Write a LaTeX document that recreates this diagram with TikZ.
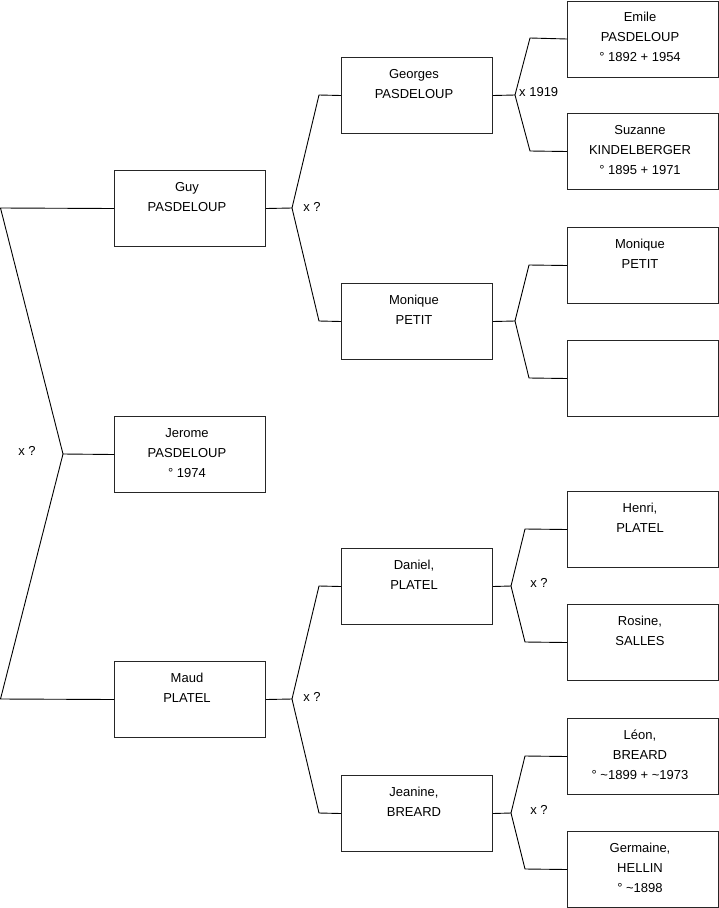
\documentclass[tikz,border=0pt]{standalone}
\usepackage{fontspec}
\setmainfont{Liberation Sans}
\begin{document}
\begin{tikzpicture}[x=1pt,y=-1pt,
  pbox/.style={draw=black!85,line width=1pt,minimum width=151pt,minimum height=76pt,inner sep=0pt,anchor=north west},
  ptxt/.style={anchor=north,inner sep=0pt,align=center,font=\fontsize{13}{20}\selectfont,yshift=-7pt,xshift=-3pt},
  conn/.style={draw=black,line width=0.9pt},
  lbl/.style={inner sep=0pt,font=\fontsize{13}{16}\selectfont}]
\useasboundingbox[fill=white] (0,0) rectangle (719,908);
% level 1
\node[pbox] (guy) at (114,170) {};
\node[pbox] (jer) at (114,416) {};
\node[pbox] (maud) at (114,661) {};
% level 2
\node[pbox] (geo) at (341,57) {};
\node[pbox] (mon) at (341,283) {};
\node[pbox] (dan) at (341,548) {};
\node[pbox] (jea) at (341,775) {};
% level 3
\node[pbox] (emi) at (567,0.5) {};
\node[pbox] (suz) at (567,113) {};
\node[pbox] (mon2) at (567,227) {};
\node[pbox] (emp) at (567,340) {};
\node[pbox] (hen) at (567,491) {};
\node[pbox] (ros) at (567,604) {};
\node[pbox] (leo) at (567,718) {};
\node[pbox] (ger) at (567,831) {};
% texts
\node[ptxt] (tguy) at (guy.north) {\strut Guy\\PASDELOUP};
\node[ptxt] (tjer) at (jer.north) {\strut Jerome\\PASDELOUP\\° 1974};
\node[ptxt] (tmaud) at (maud.north) {\strut Maud\\PLATEL};
\node[ptxt] (tgeo) at (geo.north) {\strut Georges\\PASDELOUP};
\node[ptxt] (tmon) at (mon.north) {\strut Monique\\PETIT};
\node[ptxt] (tdan) at (dan.north) {\strut Daniel,\\PLATEL};
\node[ptxt] (tjea) at (jea.north) {\strut Jeanine,\\BREARD};
\node[ptxt] (temi) at (emi.north) {\strut Emile\\PASDELOUP\\° 1892 + 1954};
\node[ptxt] (tsuz) at (suz.north) {\strut Suzanne\\KINDELBERGER\\° 1895 + 1971};
\node[ptxt] (tmon2) at (mon2.north) {\strut Monique\\PETIT};
\node[ptxt] (then) at (hen.north) {\strut Henri,\\PLATEL};
\node[ptxt] (tros) at (ros.north) {\strut Rosine,\\SALLES};
\node[ptxt] (tleo) at (leo.north) {\strut Léon,\\BREARD\\° \textasciitilde 1899 + \textasciitilde 1973};
\node[ptxt] (tger) at (ger.north) {\strut Germaine,\\HELLIN\\° \textasciitilde 1898};
% junction coordinates
\coordinate (r1) at (0.5,208);
\coordinate (r0) at (63,454);
\coordinate (r2) at (0.5,699);
\coordinate (g0) at (292,208);
\coordinate (g1) at (319,95);
\coordinate (g2) at (319,321);
\coordinate (m0) at (292,699);
\coordinate (m1) at (319,586);
\coordinate (m2) at (319,813);
\coordinate (e0) at (515,95);
\coordinate (e1) at (530,38);
\coordinate (e2) at (530,151);
\coordinate (p0) at (515,321);
\coordinate (p1) at (529,265);
\coordinate (p2) at (529,378);
\coordinate (d0) at (511,586);
\coordinate (d1) at (525,529);
\coordinate (d2) at (525,642);
\coordinate (j0) at (511,813);
\coordinate (j1) at (525,756);
\coordinate (j2) at (525,869);
% connectors
\draw[conn] (guy.west) -- (r1) -- (r0) -- (jer.west);
\draw[conn] (r0) -- (r2) -- (maud.west);
\draw[conn] (guy.east) -- (g0) -- (g1) -- (geo.west);
\draw[conn] (g0) -- (g2) -- (mon.west);
\draw[conn] (maud.east) -- (m0) -- (m1) -- (dan.west);
\draw[conn] (m0) -- (m2) -- (jea.west);
\draw[conn] (geo.east) -- (e0) -- (e1) -- (emi.west);
\draw[conn] (e0) -- (e2) -- (suz.west);
\draw[conn] (mon.east) -- (p0) -- (p1) -- (mon2.west);
\draw[conn] (p0) -- (p2) -- (emp.west);
\draw[conn] (dan.east) -- (d0) -- (d1) -- (hen.west);
\draw[conn] (d0) -- (d2) -- (ros.west);
\draw[conn] (jea.east) -- (j0) -- (j1) -- (leo.west);
\draw[conn] (j0) -- (j2) -- (ger.west);
% labels
\node[lbl] (l0) at (27,451) {x ?};
\node[lbl] (l1) at (312,207) {x ?};
\node[lbl] (l2) at (312,697) {x ?};
\node[lbl,anchor=west] (l3) at (519,92) {x 1919};
\node[lbl] (l4) at (539,583) {x ?};
\node[lbl] (l5) at (539,810) {x ?};
\end{tikzpicture}
\end{document}
